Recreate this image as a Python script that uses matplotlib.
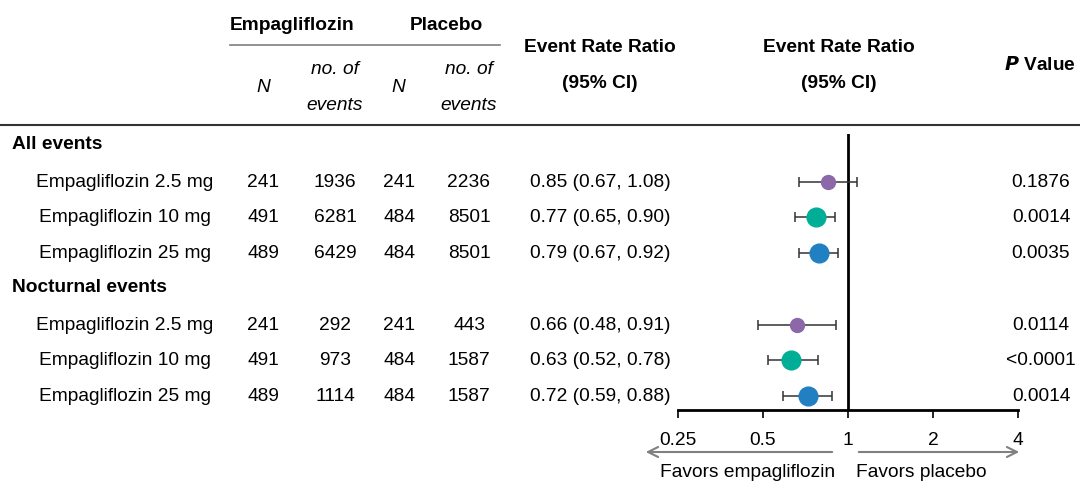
import matplotlib.pyplot as plt
import numpy as np

plt.rcParams['font.family'] = ['Liberation Sans', 'DejaVu Sans']

# data
groups = ["All events", "Nocturnal events"]
doses = ["Empagliflozin 2.5 mg", "Empagliflozin 10 mg", "Empagliflozin 25 mg"]
emp_n = [241, 491, 489, 241, 491, 489]
emp_events = [1936, 6281, 6429, 292, 973, 1114]
pbo_n = [241, 484, 484, 241, 484, 484]
pbo_events = [2236, 8501, 8501, 443, 1587, 1587]
ratio = [0.85, 0.77, 0.79, 0.66, 0.63, 0.72]
ci_lo = [0.67, 0.65, 0.67, 0.48, 0.52, 0.59]
ci_hi = [1.08, 0.90, 0.92, 0.91, 0.78, 0.88]
pvals = ["0.1876", "0.0014", "0.0035", "0.0114", "<0.0001", "0.0014"]
ticks = [0.25, 0.5, 1, 2, 4]

dose_colors = ['#8c68a8', '#00ae98', '#2180c2']
dose_sizes = [10, 13.5, 13.5]

W, H = 1080, 485
fig = plt.figure(figsize=(W / 100, H / 100), dpi=100)

# table layer in pixel coordinates
tab = fig.add_axes([0, 0, 1, 1])
tab.set_xlim(0, W)
tab.set_ylim(H, 0)
tab.axis('off')

fs = 13.8
hfs = 13.8
group_y = [145, 288]
row_off = [38, 73, 109]

# headers
tab.text(292, 26, "Empagliflozin", ha='center', va='center', fontsize=hfs, fontweight='bold')
tab.text(446, 26, "Placebo", ha='center', va='center', fontsize=hfs, fontweight='bold')
tab.plot([230, 500], [46, 46], color='#7f7f7f', lw=1.2)
for x in (263, 398):
    tab.text(x, 87, "N", ha='center', va='center', fontsize=fs, style='italic')
for x in (335, 469):
    tab.text(x, 70, "no. of", ha='center', va='center', fontsize=fs, style='italic')
    tab.text(x, 105, "events", ha='center', va='center', fontsize=fs, style='italic')
for x in (600, 839):
    tab.text(x, 47, "Event Rate Ratio", ha='center', va='center', fontsize=hfs, fontweight='bold')
    tab.text(x, 83, "(95% CI)", ha='center', va='center', fontsize=hfs, fontweight='bold')
tab.text(1040, 65, r"$\bfit{P}$ Value", ha='center', va='center', fontsize=hfs, fontweight='bold')
tab.plot([0, W], [126, 126], color='#333333', lw=1.5)

# rows
row_y = []
k = 0
for g, grp in enumerate(groups):
    tab.text(12, group_y[g], grp, ha='left', va='center', fontsize=hfs, fontweight='bold')
    for d, dose in enumerate(doses):
        ry = group_y[g] + row_off[d]
        row_y.append(ry)
        tab.text(125, ry, dose, ha='center', va='center', fontsize=fs)
        tab.text(263, ry, str(emp_n[k]), ha='center', va='center', fontsize=fs)
        tab.text(335, ry, str(emp_events[k]), ha='center', va='center', fontsize=fs)
        tab.text(399, ry, str(pbo_n[k]), ha='center', va='center', fontsize=fs)
        tab.text(469, ry, str(pbo_events[k]), ha='center', va='center', fontsize=fs)
        tab.text(600, ry, f"{ratio[k]:.2f} ({ci_lo[k]:.2f}, {ci_hi[k]:.2f})",
                 ha='center', va='center', fontsize=fs)
        tab.text(1041, ry, pvals[k], ha='center', va='center', fontsize=fs)
        k += 1

# forest plot axes (y in pixel units of the figure)
x_left, x_right, y_top, y_bot = 678, 1018, 135, 411
ax = fig.add_axes([x_left / W, 1 - y_bot / H, (x_right - x_left) / W, (y_bot - y_top) / H])
ax.patch.set_alpha(0)
ax.set_xscale('log', base=2)
ax.set_xlim(0.25, 4)
ax.set_ylim(y_bot, y_top)
for s in ('top', 'right', 'left'):
    ax.spines[s].set_visible(False)
ax.spines['bottom'].set_linewidth(2)
ax.set_yticks([])
ax.set_xticks(ticks)
ax.set_xticklabels([f"{t:g}" for t in ticks])
ax.minorticks_off()
ax.tick_params(axis='x', length=6, width=1.2, labelsize=fs, pad=9)
ax.axvline(1, color='black', lw=2)

for k, ry in enumerate(row_y):
    d = k % len(doses)
    ax.errorbar(ratio[k], ry,
                xerr=[[ratio[k] - ci_lo[k]], [ci_hi[k] - ratio[k]]],
                fmt='none', ecolor='#333333', elinewidth=1.1, capsize=3.5, capthick=1.1)
    ax.plot(ratio[k], ry, 'o', color=dose_colors[d], ms=dose_sizes[d], zorder=3)

# favors arrows
arrow_kw = dict(arrowstyle='->', color='#808080', lw=1.5, mutation_scale=18)
tab.annotate("", xy=(643, 453), xytext=(835, 453), arrowprops=arrow_kw)
tab.annotate("", xy=(1022, 453), xytext=(856, 453), arrowprops=arrow_kw)
tab.text(835, 473, "Favors empagliflozin", ha='right', va='center', fontsize=fs)
tab.text(856, 473, "Favors placebo", ha='left', va='center', fontsize=fs)

fig.savefig('out.png', dpi=100)
